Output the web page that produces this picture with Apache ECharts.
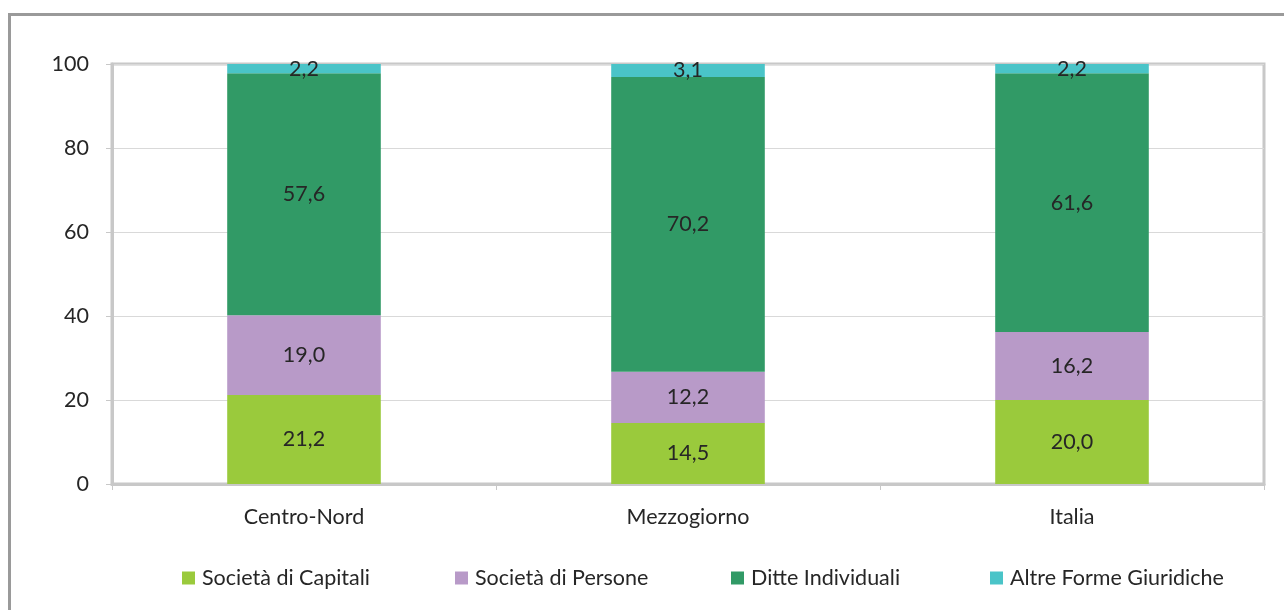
<!DOCTYPE html>
<html>
<head>
<meta charset="utf-8">
<script src="https://cdn.jsdelivr.net/npm/echarts@6/dist/echarts.min.js"></script>
<style>
html,body{margin:0;padding:0;background:#fff;}
#chart{width:1284px;height:610px;}
</style>
</head>
<body>
<div id="chart"></div>
<script>
const categories = ['Centro-Nord', 'Mezzogiorno', 'Italia'];
const capitali = [21.2, 14.5, 20.0];
const persone = [19.0, 12.2, 16.2];
const ditte = [57.6, 70.2, 61.6];
const altre = [2.2, 3.1, 2.2];
const seriesNames = ['Società di Capitali', 'Società di Persone', 'Ditte Individuali', 'Altre Forme Giuridiche'];
const yTicks = [0, 20, 40, 60, 80, 100];

const colors = ['#9ACA3C', '#B89AC8', '#319A66', '#4AC4C8'];
const font = 'Lato, "Open Sans", sans-serif';
const textColor = '#262626';
const fs = 21.5;

const chart = echarts.init(document.getElementById('chart'));
const dataSets = [capitali, persone, ditte, altre];

const series = dataSets.map((d, i) => ({
  name: seriesNames[i],
  type: 'bar',
  stack: 'total',
  barWidth: '40%',
  data: d,
  itemStyle: { color: colors[i] },
  label: {
    show: true,
    position: 'inside',
    color: textColor,
    fontFamily: font,
    fontSize: fs,
    formatter: p => p.value.toFixed(1).replace('.', ',')
  },
  emphasis: { disabled: true }
}));

const legendLefts = [177, 450, 726, 985];
const legends = seriesNames.map((n, i) => ({
  data: [n],
  left: legendLefts[i],
  top: 562,
  itemWidth: 13,
  itemHeight: 13,
  icon: 'rect',
  textStyle: { color: textColor, fontFamily: font, fontSize: fs, padding: [0, 0, 0, 2] },
  selectedMode: false
}));

chart.setOption({
  animation: false,
  backgroundColor: '#fff',
  graphic: [{
    type: 'rect',
    shape: { x: 9.5, y: 14.5, width: 1400, height: 800 },
    style: { fill: 'none', stroke: '#9a9a9a', lineWidth: 3 },
    silent: true
  }],
  grid: {
    left: 112, right: 20, top: 64, bottom: 126,
    show: true,
    borderColor: '#c8c8c8',
    borderWidth: 3,
    backgroundColor: 'transparent'
  },
  legend: legends,
  xAxis: {
    type: 'category',
    data: categories,
    axisLine: { show: true, lineStyle: { color: '#c8c8c8', width: 3 } },
    axisTick: { show: true, length: 6, lineStyle: { color: '#c8c8c8', width: 1 } },
    axisLabel: { color: textColor, fontFamily: font, fontSize: fs, margin: 22 }
  },
  yAxis: {
    type: 'value',
    min: 0,
    max: 100,
    interval: 20,
    axisLine: { show: true, lineStyle: { color: '#c8c8c8', width: 3 } },
    axisTick: { show: true, length: 6, lineStyle: { color: '#c8c8c8', width: 1 } },
    axisLabel: {
      color: textColor, fontFamily: font, fontSize: fs, margin: 23,
      formatter: v => yTicks.includes(v) ? String(v) : ''
    },
    splitLine: { show: true, lineStyle: { color: '#d9d9d9', width: 1 } }
  },
  series: series
});
</script>
</body>
</html>
